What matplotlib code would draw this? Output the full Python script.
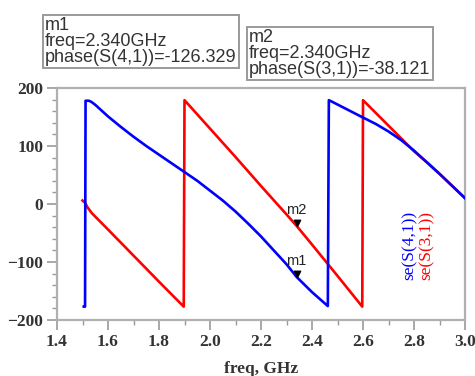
import matplotlib
matplotlib.use("Agg")
import matplotlib.pyplot as plt
from matplotlib.path import Path
from matplotlib.ticker import MultipleLocator, FormatStrFormatter

# ---- data ----
blue_f = [1.505, 1.510, 1.512, 1.525, 1.535, 1.55, 1.575, 1.60, 1.65, 1.70, 1.75, 1.80, 1.85, 1.90,
          1.95, 2.00, 2.05, 2.10, 2.15, 2.20, 2.25, 2.30, 2.34, 2.40, 2.462,
          2.466, 2.48, 2.52, 2.56, 2.60, 2.65, 2.70, 2.75, 2.80, 2.85, 2.90, 2.95, 3.00]
blue_v = [-177, -177, 178, 178, 176, 171, 161, 151, 133, 116, 100, 85, 70, 55,
          40, 23, 6, -13, -34, -56, -80, -104, -126, -152, -176,
          179, 176, 167, 158, 149, 138, 125, 110, 92, 72, 52, 31, 10]

red_f = [1.500, 1.510, 1.520, 1.537, 1.60, 1.70, 1.80, 1.897,
         1.900, 2.00, 2.10, 2.20, 2.30, 2.34, 2.40, 2.50, 2.597,
         2.600, 2.65, 2.70, 2.75, 2.80, 2.85, 2.90, 2.95, 3.00]
red_v = [6, 2, -6, -16, -44, -89, -134, -177,
         179, 130, 81, 31, -18, -38, -70, -124, -177,
         179, 157, 135, 113, 91, 72, 52, 31, 10]

m1_freq, m1_val = 2.340, -126.329
m2_freq, m2_val = 2.340, -38.121

x_ticks = [1.4, 1.6, 1.8, 2.0, 2.2, 2.4, 2.6, 2.8, 3.0]
y_ticks = [-200, -100, 0, 100, 200]

BLUE = "#0000FF"
RED = "#FF0000"
GRAY = "#9a9a9a"
serif = ["Liberation Serif", "DejaVu Serif"]
sans = ["Liberation Sans", "DejaVu Sans"]

fig = plt.figure(figsize=(4.75, 3.76), dpi=100)
ax = fig.add_axes([0.12, 0.149, 0.859, 0.617])

ax.plot(red_f, red_v, color=RED, lw=1.9, solid_joinstyle="round", zorder=3)
ax.plot(blue_f, blue_v, color=BLUE, lw=1.9, solid_joinstyle="round", zorder=4)

# marker triangles (tip on the data point)
tri = Path([(-1, 2), (1, 2), (0, 0), (-1, 2)], [Path.MOVETO, Path.LINETO, Path.LINETO, Path.CLOSEPOLY])
for f, v, name in [(m1_freq, m1_val, "m1"), (m2_freq, m2_val, "m2")]:
    ax.plot([f], [v], marker=tri, markersize=9, color="black", zorder=6, linestyle="none")
    ax.annotate(name, xy=(f, v), xytext=(-8, 9), textcoords="offset points",
                fontsize=10.5, family=sans, color="#222222", zorder=7)

ax.set_xlim(1.4, 3.0)
ax.set_ylim(-200, 200)
ax.set_xticks(x_ticks)
ax.set_yticks(y_ticks)
ax.xaxis.set_major_formatter(FormatStrFormatter("%.1f"))
ax.xaxis.set_minor_locator(MultipleLocator(0.1))
ax.yaxis.set_minor_locator(MultipleLocator(20))
ax.tick_params(which="major", direction="out", length=7.5, width=1.2, color=GRAY,
               labelsize=12.5, pad=2.5)
ax.tick_params(which="minor", direction="out", length=3.5, width=1.0, color=GRAY)
for lab in ax.get_xticklabels() + ax.get_yticklabels():
    lab.set_family(serif)
    lab.set_fontweight("bold")
    lab.set_color("#333333")
for s in ax.spines.values():
    s.set_color("#b0b0b0")
    s.set_linewidth(1.6)

ax.set_xlabel("freq, GHz", family=serif, fontweight="bold", fontsize=12.5,
              color="#333333", labelpad=8)

# vertical trace labels
ax.text(0.865, 0.32, "se(S(4,1))", transform=ax.transAxes, rotation=90, color=BLUE,
        family=serif, fontsize=12.5, ha="center", va="center")
ax.text(0.907, 0.32, "se(S(3,1))", transform=ax.transAxes, rotation=90, color=RED,
        family=serif, fontsize=12.5, ha="center", va="center")

# marker readout boxes
box = dict(boxstyle="square,pad=0.12", facecolor="white", edgecolor=GRAY, linewidth=1.4)
fig.text(45 / 475, 1 - 17 / 376,
         "m1\nfreq=2.340GHz\nphase(S(4,1))=%.3f" % m1_val,
         family=sans, fontsize=13, va="top", ha="left", color="#333333",
         linespacing=0.93, bbox=box)
fig.text(249 / 475, 1 - 29 / 376,
         "m2\nfreq=2.340GHz\nphase(S(3,1))=%.3f" % m2_val,
         family=sans, fontsize=13, va="top", ha="left", color="#333333",
         linespacing=0.93, bbox=box)

fig.savefig("out.png", dpi=100)
